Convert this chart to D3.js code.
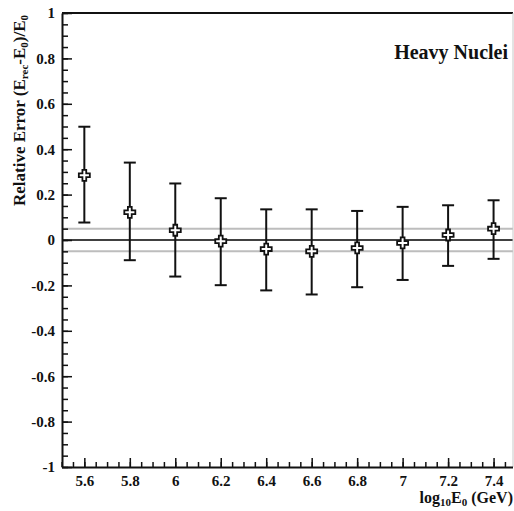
<!DOCTYPE html>
<html>
<head>
<meta charset="utf-8">
<script src="https://cdn.jsdelivr.net/npm/d3@7"></script>
<style>
  html, body { margin: 0; padding: 0; background: #fff; }
  svg { display: block; }
  text { font-family: "Liberation Serif", "DejaVu Serif", serif; font-weight: bold; fill: #111; }
</style>
</head>
<body>
<svg id="chart" width="514" height="511"></svg>
<script>
// ---- data ----
const energies = [5.6, 5.8, 6.0, 6.2, 6.4, 6.6, 6.8, 7.0, 7.2, 7.4];
const relErr   = [0.285, 0.122, 0.043, -0.005, -0.04, -0.05, -0.035, -0.013, 0.022, 0.05];
const errHigh  = [0.499, 0.341, 0.249, 0.184, 0.135, 0.135, 0.128, 0.146, 0.153, 0.175];
const errLow   = [0.077, -0.089, -0.161, -0.199, -0.222, -0.240, -0.208, -0.176, -0.114, -0.083];
const bandLevels = [-0.05, 0.05];
const xTicks = [5.6, 5.8, 6.0, 6.2, 6.4, 6.6, 6.8, 7.0, 7.2, 7.4];
const xTickLabels = ["5.6", "5.8", "6", "6.2", "6.4", "6.6", "6.8", "7", "7.2", "7.4"];
const yTicks = [-1, -0.8, -0.6, -0.4, -0.2, 0, 0.2, 0.4, 0.6, 0.8, 1];
const yTickLabels = ["-1", "-0.8", "-0.6", "-0.4", "-0.2", "0", "0.2", "0.4", "0.6", "0.8", "1"];
const title = "Heavy Nuclei";

// ---- layout ----
const svg = d3.select("#chart");
const L = 62, T = 13, B = 467, Rframe = 513;
const x = d3.scaleLinear().domain([5.5, 7.5]).range([61.6, 516.3]);
const y = d3.scaleLinear().domain([-1, 1]).range([B, T]);

const xMinor = d3.range(0, 40).map(i => +(5.5 + i * 0.05).toFixed(2)).filter(v => x(v) < Rframe - 1);
const yMinor = d3.range(0, 41).map(i => +(-1 + i * 0.05).toFixed(2));

// gray band lines
svg.selectAll("line.band").data(bandLevels).join("line")
  .attr("class", "band")
  .attr("x1", L).attr("x2", Rframe)
  .attr("y1", d => y(d)).attr("y2", d => y(d))
  .attr("stroke", "#bdbdbd").attr("stroke-width", 2);

// zero line
svg.append("line")
  .attr("x1", L).attr("x2", Rframe)
  .attr("y1", y(0)).attr("y2", y(0))
  .attr("stroke", "#000").attr("stroke-width", 1.6);

// frame top & right
svg.append("line").attr("x1", L).attr("x2", Rframe).attr("y1", T).attr("y2", T)
  .attr("stroke", "#111").attr("stroke-width", 2);
svg.append("line").attr("x1", Rframe).attr("x2", Rframe).attr("y1", T).attr("y2", B)
  .attr("stroke", "#c8c8c8").attr("stroke-width", 1);

// y axis minor
svg.append("g").attr("transform", `translate(${L},0)`)
  .call(d3.axisLeft(y).tickValues(yMinor).tickSizeInner(-6).tickSizeOuter(0).tickFormat(""))
  .call(g => g.select(".domain").remove())
  .call(g => g.selectAll("line").attr("stroke", "#111").attr("stroke-width", 1.5));
// y axis major
svg.append("g").attr("transform", `translate(${L},0)`)
  .call(d3.axisLeft(y).tickValues(yTicks).tickSizeInner(-10).tickSizeOuter(0).tickPadding(7)
        .tickFormat((d, i) => yTickLabels[i]))
  .call(g => g.select(".domain").attr("stroke", "#111").attr("stroke-width", 2))
  .call(g => g.selectAll("line").attr("stroke", "#111").attr("stroke-width", 1.5))
  .call(g => g.selectAll("text").attr("font-size", 15).attr("fill", "#111"));

// x axis minor
svg.append("g").attr("transform", `translate(0,${B})`)
  .call(d3.axisBottom(x).tickValues(xMinor).tickSizeInner(-5).tickSizeOuter(0).tickFormat(""))
  .call(g => g.select(".domain").remove())
  .call(g => g.selectAll("line").attr("stroke", "#111").attr("stroke-width", 1.5));
// x axis major
svg.append("g").attr("transform", `translate(0,${B})`)
  .call(d3.axisBottom(x).tickValues(xTicks).tickSizeInner(-9).tickSizeOuter(0).tickPadding(8)
        .tickFormat((d, i) => xTickLabels[i]))
  .call(g => g.select(".domain").attr("d", `M${L},0.5H${Rframe}`).attr("stroke", "#111").attr("stroke-width", 2))
  .call(g => g.selectAll("line").attr("stroke", "#111").attr("stroke-width", 1.5))
  .call(g => g.selectAll("text").attr("font-size", 15).attr("fill", "#111"));

// error bars
const pts = energies.map((e, i) => ({ e, v: relErr[i], hi: errHigh[i], lo: errLow[i] }));
const capW = 6;
const eb = svg.append("g").attr("stroke", "#111").attr("stroke-width", 2).attr("fill", "none");
eb.selectAll("line.v").data(pts).join("line")
  .attr("x1", d => x(d.e)).attr("x2", d => x(d.e))
  .attr("y1", d => y(d.hi)).attr("y2", d => y(d.lo));
eb.selectAll("line.ct").data(pts).join("line")
  .attr("x1", d => x(d.e) - capW).attr("x2", d => x(d.e) + capW)
  .attr("y1", d => y(d.hi)).attr("y2", d => y(d.hi));
eb.selectAll("line.cb").data(pts).join("line")
  .attr("x1", d => x(d.e) - capW).attr("x2", d => x(d.e) + capW)
  .attr("y1", d => y(d.lo)).attr("y2", d => y(d.lo));

// open cross markers
const s = 5.5, a = 1.9;
const crossPath = `M${-a},${-s}H${a}V${-a}H${s}V${a}H${a}V${s}H${-a}V${a}H${-s}V${-a}H${-a}Z`;
svg.append("g").selectAll("path").data(pts).join("path")
  .attr("transform", d => `translate(${x(d.e)},${y(d.v)})`)
  .attr("d", crossPath)
  .attr("fill", "#fff").attr("stroke", "#111").attr("stroke-width", 1.8);

// title
svg.append("text").attr("x", 508).attr("y", 59).attr("text-anchor", "end")
  .attr("font-size", 20).text(title);

// x axis title
const xt = svg.append("text").attr("x", 513).attr("y", 503).attr("text-anchor", "end").attr("font-size", 16);
xt.append("tspan").text("log");
xt.append("tspan").attr("baseline-shift", "-25%").attr("font-size", 11).text("10");
xt.append("tspan").text("E");
xt.append("tspan").attr("baseline-shift", "-25%").attr("font-size", 11).text("0");
xt.append("tspan").text(" (GeV)");

// y axis title
const yt = svg.append("text").attr("transform", `translate(25,${T + 2}) rotate(-90)`)
  .attr("text-anchor", "end").attr("font-size", 17);
yt.append("tspan").text("Relative Error (E");
yt.append("tspan").attr("baseline-shift", "-25%").attr("font-size", 11).text("rec");
yt.append("tspan").text("-E");
yt.append("tspan").attr("baseline-shift", "-25%").attr("font-size", 11).text("0");
yt.append("tspan").text(")/E");
yt.append("tspan").attr("baseline-shift", "-25%").attr("font-size", 11).text("0");
</script>
</body>
</html>
